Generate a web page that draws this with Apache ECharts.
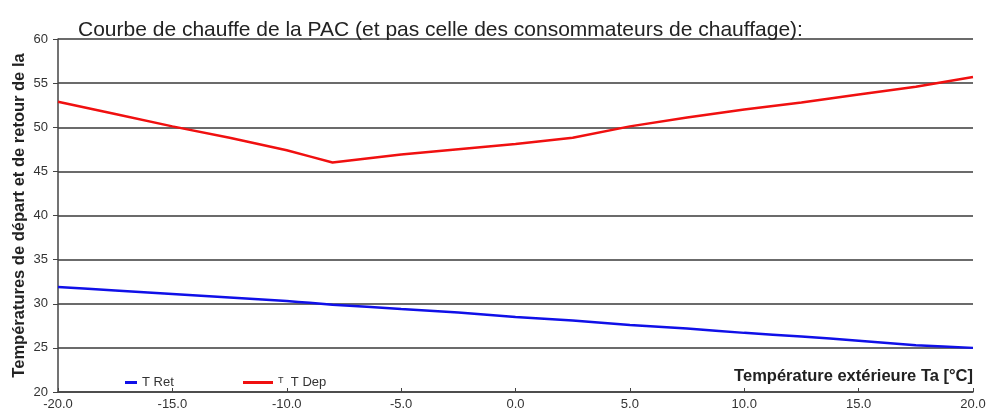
<!DOCTYPE html>
<html>
<head>
<meta charset="utf-8">
<script src="https://cdn.jsdelivr.net/npm/echarts@6/dist/echarts.min.js"></script>
<style>
  html, body { margin: 0; padding: 0; background: #fff; }
  #chart { width: 989px; height: 416px; }
</style>
</head>
<body>
<div id="chart"></div>
<script>
// temperature exterieure (°C)
const ta = [-20, -17.5, -15, -12.5, -10, -9, -8, -5, -2.5, 0, 2.5, 5, 7.5, 10, 12.5, 15, 17.5, 20]
// T Dep (depart)
const tDep = [52.9, 51.5, 50.1, 48.8, 47.4, 46.7, 46.0, 46.9, 47.5, 48.1, 48.8, 50.1, 51.1, 52.0, 52.8, 53.7, 54.6, 55.7]
// T Ret (retour)
const tRet = [31.9, 31.5, 31.1, 30.7, 30.3, 30.1, 29.9, 29.4, 29.0, 28.5, 28.1, 27.6, 27.2, 26.7, 26.3, 25.8, 25.3, 25.0]

const yTicks = { min: 20, max: 60, interval: 5 }
const xTicks = { min: -20, max: 20, interval: 5 }

const toPairs = (xs, ys) => xs.map((x, i) => [x, ys[i]])

const ec = echarts.init(document.getElementById('chart'))

const legendText = { color: '#333', fontSize: 13 }

ec.setOption({
    animation: false,
    backgroundColor: '#fff',
    textStyle: { fontFamily: 'Liberation Sans, Arial, sans-serif' },
    title: {
        text: 'Courbe de chauffe de la PAC (et pas celle des consommateurs de chauffage):',
        left: 73,
        top: 15,
        textStyle: { fontSize: 21, fontWeight: 'normal', color: '#222' }
    },
    legend: [
        {
            left: 120,
            top: 371,
            itemWidth: 12,
            itemHeight: 3,
            itemGap: 6,
            textStyle: legendText,
            data: [{ name: 'T Ret', icon: 'rect' }]
        },
        {
            left: 238,
            top: 371,
            itemWidth: 30,
            itemHeight: 3,
            textStyle: legendText,
            data: [{ name: 'T Dep', icon: 'rect' }],
            formatter: n => 'ᵀ  ' + n
        }
    ],
    grid: { left: 58, right: 16, top: 39, bottom: 24, outerBoundsMode: 'none' },
    xAxis: {
        type: 'value',
        min: xTicks.min,
        max: xTicks.max,
        interval: xTicks.interval,
        axisLine: { show: true, onZero: false, lineStyle: { color: '#444', width: 1.5 } },
        axisTick: { show: true, inside: true, length: 4, lineStyle: { color: '#444' } },
        axisLabel: { color: '#333', fontSize: 13, margin: 6, formatter: v => v.toFixed(1) },
        splitLine: { show: false }
    },
    yAxis: {
        type: 'value',
        min: yTicks.min,
        max: yTicks.max,
        interval: yTicks.interval,
        name: 'Températures de départ et de retour de la',
        nameLocation: 'middle',
        nameGap: 30,
        nameMoveOverlap: false,
        nameTextStyle: { fontSize: 16.5, fontWeight: 'bold', color: '#222' },
        axisLine: { show: true, onZero: false, lineStyle: { color: '#444', width: 1.5 } },
        axisTick: { show: true, length: 5, lineStyle: { color: '#444' } },
        axisLabel: { color: '#333', fontSize: 13, margin: 10 },
        splitLine: { show: true, lineStyle: { color: '#3a3a3a', width: 1.5 } }
    },
    graphic: [{
        type: 'text',
        right: 16,
        top: 368,
        style: {
            text: 'Température extérieure Ta [°C]',
            font: 'bold 16.5px "Liberation Sans", Arial, sans-serif',
            fill: '#222'
        }
    }],
    series: [
        {
            name: 'T Ret',
            type: 'line',
            data: toPairs(ta, tRet),
            showSymbol: false,
            smooth: 0.2,
            lineStyle: { color: '#1010e8', width: 2.5 },
            itemStyle: { color: '#1010e8' },
            z: 3
        },
        {
            name: 'T Dep',
            type: 'line',
            data: toPairs(ta, tDep),
            showSymbol: false,
            smooth: false,
            lineStyle: { color: '#f01010', width: 2.5 },
            itemStyle: { color: '#f01010' },
            z: 3
        }
    ]
})
</script>
</body>
</html>
